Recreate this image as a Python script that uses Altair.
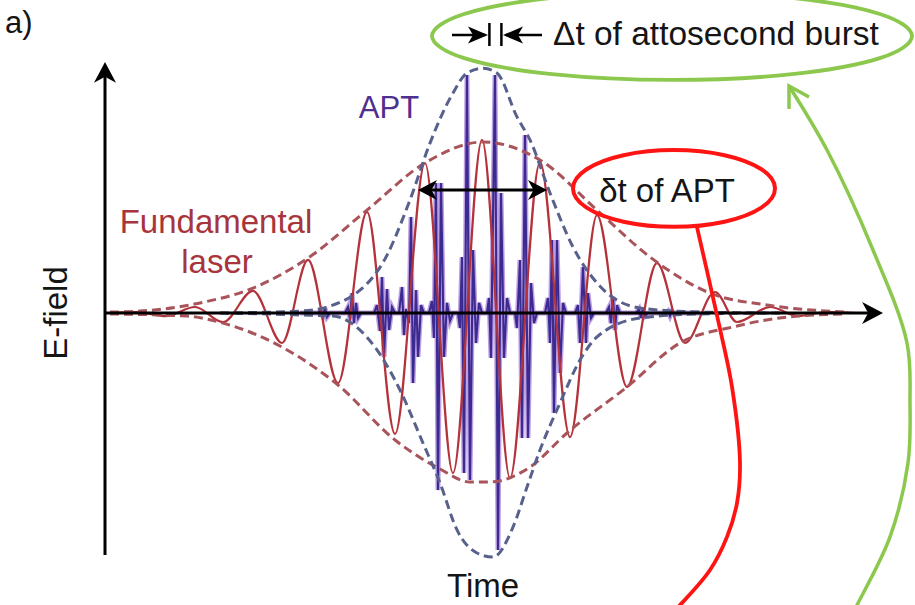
import altair as alt
import pandas as pd

# Time in fs (0 = pulse centre), field normalised to the APT peak.

# Fundamental laser: successive field extrema
laser_t = [-18.75, -17.3, -15.85, -14.4, -13.0, -11.5, -10.05, -8.75, -7.25, -5.8, -4.4,
           -2.9, -1.5, -0.05, 1.35, 2.85, 4.35, 5.7, 7.2, 8.7, 10.1, 11.6, 12.7, 14.35,
           15.75, 17.2, 18.65]
laser_e = [0.0, 0.004, -0.013, 0.025, -0.038, 0.092, -0.125, 0.221, -0.292, 0.421, -0.504,
           0.625, -0.667, 0.721, -0.688, 0.629, -0.517, 0.408, -0.308, 0.208, -0.125, 0.0875,
           -0.0375, 0.025, -0.0125, 0.004, 0.0]

# Laser envelope (upper / lower)
laser_env_top_t = [-18.65, -17.15, -14.15, -11.5, -8.75, -5.8, -2.9, 0.0, 2.85, 5.85, 8.35,
                   11.35, 14.2, 18.1]
laser_env_top_e = [0.004, 0.008, 0.042, 0.104, 0.229, 0.429, 0.625, 0.7125, 0.6375, 0.417,
                   0.233, 0.083, 0.033, 0.004]
laser_env_bot_t = [-18.65, -14.8, -13.0, -10.05, -7.25, -4.4, -2.15, -0.65, 0.35, 2.35, 4.2,
                   7.2, 9.85, 12.5, 15.2, 18.1]
laser_env_bot_e = [-0.004, -0.013, -0.042, -0.142, -0.3, -0.529, -0.65, -0.704, -0.704,
                   -0.642, -0.5, -0.308, -0.125, -0.058, -0.017, -0.004]

# Attosecond pulse train: field extrema of each burst
apt_t = [-9.15,
         -8.25, -8.1, -8.0, -7.9, -7.8, -7.65,
         -6.9, -6.75, -6.65, -6.55, -6.45, -6.35, -6.25, -6.1,
         -5.45, -5.3, -5.15, -5.05, -4.95, -4.8, -4.7, -4.55, -4.4,
         -4.2, -4.05, -3.95, -3.85, -3.7, -3.6, -3.5, -3.35, -3.25, -3.1, -2.95,
         -2.7, -2.55, -2.45, -2.35, -2.25, -2.1, -1.95, -1.8, -1.65, -1.5,
         -1.25, -1.15, -1.05, -0.95, -0.8, -0.65, -0.5, -0.35, -0.2, -0.05,
         0.2, 0.3, 0.4, 0.6, 0.75, 0.9, 1.05, 1.2, 1.35,
         1.6, 1.7, 1.85, 1.95, 2.1, 2.25, 2.4, 2.55, 2.7,
         3.1, 3.25, 3.35, 3.45, 3.55, 3.7, 3.85, 4.0, 4.15,
         4.6, 4.75, 4.85, 5.0, 5.15, 5.25, 5.4, 5.55,
         6.15, 6.3, 6.4, 6.5, 6.6, 6.7, 6.85,
         7.65, 7.8, 7.9, 8.0, 8.1, 8.25,
         9.15, 9.25, 9.35, 9.45, 9.55,
         10.85]
apt_e = [0.0,
         0.0, 0.0125, -0.0125, 0.021, -0.017, 0.0,
         0.0, 0.025, -0.025, 0.083, -0.042, 0.042, -0.021, 0.0,
         0.0, 0.033, -0.075, 0.15, -0.183, 0.1, -0.071, 0.025, 0.0,
         0.0, 0.108, -0.092, 0.017, -0.042, 0.4, -0.292, 0.096, -0.183, 0.033, 0.0,
         0.0, 0.05, -0.104, 0.542, -0.738, 0.542, -0.183, 0.042, -0.033, 0.0,
         0.0, -0.0625, 0.233, -0.667, 0.992, -0.696, 0.2625, -0.125, 0.042, 0.0,
         0.0, 0.0625, -0.1875, 0.992, -0.9875, 0.5, -0.1875, 0.0625, 0.0,
         0.0, -0.0625, 0.221, -0.521, 0.742, -0.521, 0.125, -0.042, 0.0,
         0.0, 0.0625, -0.125, 0.304, -0.417, 0.304, -0.25, 0.042, 0.0,
         0.0, 0.033, -0.125, 0.192, -0.125, 0.083, -0.021, 0.0,
         0.0, 0.025, -0.042, 0.067, -0.071, 0.033, 0.0,
         0.0, 0.017, -0.021, 0.021, -0.0125, 0.0,
         0.0, 0.008, -0.0125, 0.008, 0.0,
         0.0]

# APT envelope (upper / lower)
apt_env_top_t = [-13.15, -9.15, -7.8, -5.15, -3.65, -2.65, -1.5, -0.8, 0.0, 0.7, 1.7, 2.35,
                 3.35, 4.5, 5.7, 7.85, 10.85, 14.85]
apt_env_top_e = [0.0, 0.008, 0.025, 0.19, 0.471, 0.708, 0.917, 1.0, 1.02, 1.0, 0.817, 0.721,
                 0.5, 0.275, 0.125, 0.021, 0.004, 0.0]
apt_env_bot_t = [-13.15, -9.15, -7.5, -5.3, -4.15, -3.0, -2.15, -1.3, -0.3, 0.5, 1.5, 2.2,
                 2.85, 3.85, 4.85, 5.7, 7.85, 10.85, 14.85]
apt_env_bot_e = [0.0, -0.008, -0.013, -0.154, -0.321, -0.542, -0.708, -0.904, -1.0, -1.017,
                 -0.892, -0.725, -0.571, -0.375, -0.196, -0.1, -0.021, -0.004, 0.0]

# Callout outlines (ellipses) and connector curves
burst_ring_t = [21.45, 19.84, 15.45, 9.45, 3.45, -0.94, -2.55, -0.94, 3.45, 9.45, 15.45, 19.84]
burst_ring_e = [1.154, 1.246, 1.313, 1.337, 1.313, 1.246, 1.154, 1.062, 0.995, 0.971,
                0.995, 1.062]
train_ring_t = [14.6, 13.92, 12.075, 9.55, 7.025, 5.18, 4.5, 5.18, 7.025, 9.55, 12.075, 13.92]
train_ring_e = [0.519, 0.599, 0.6576, 0.679, 0.6576, 0.599, 0.519, 0.439, 0.3804, 0.359,
                0.3804, 0.439]
train_link_t = [10.7, 11.75, 12.45, 12.85, 12.7, 12.2, 11.35, 9.85, 9.35]
train_link_e = [0.358, -0.029, -0.308, -0.625, -0.792, -0.933, -1.071, -1.217, -1.258]
burst_link_t = [15.3, 17.2, 19.5, 21.2, 21.35, 21.25, 20.35, 18.7, 18.45]
burst_link_e = [0.946, 0.679, 0.2625, -0.125, -0.375, -0.625, -0.933, -1.217, -1.258]
burst_link_head_t = [16.3, 15.3, 15.3]
burst_link_head_e = [0.9, 0.946, 0.85]

X_DOMAIN = [-24.15, 21.6]
Y_DOMAIN = [-1.2167, 1.3042]
xs = alt.Scale(domain=X_DOMAIN, nice=False, zero=False)
ys = alt.Scale(domain=Y_DOMAIN, nice=False, zero=False)
FONT = "Liberation Sans"


def xy():
    return dict(x=alt.X("t:Q", scale=xs, axis=None),
                y=alt.Y("E:Q", scale=ys, axis=None))


def curve(t, e, **mark):
    df = pd.DataFrame({"t": t, "E": e, "i": list(range(len(t)))})
    return alt.Chart(df).mark_line(clip=True, **mark).encode(order=alt.Order("i:Q"), **xy())


def segment(t1, e1, t2, e2, color="#000000", width=3.0):
    df = pd.DataFrame({"t": [t1], "E": [e1], "t2": [t2], "E2": [e2]})
    return alt.Chart(df).mark_rule(color=color, strokeWidth=width).encode(
        x2="t2:Q", y2="E2:Q", **xy())


def head(path, t, e, size=484, color="#000000"):
    df = pd.DataFrame({"t": [t], "E": [e]})
    return alt.Chart(df).mark_point(shape=path, size=size, filled=True, color=color,
                                    opacity=1, strokeWidth=0).encode(**xy())


def label(text, t, e, size=33, color="#151515", align="center", angle=0,
          baseline="alphabetic"):
    df = pd.DataFrame({"t": [t], "E": [e], "s": [text]})
    return alt.Chart(df).mark_text(font=FONT, fontSize=size, color=color, align=align,
                                   angle=angle, baseline=baseline).encode(
        text="s:N", **xy())


UP = "M 0 0 L 1 1.9 L 0 1.35 L -1 1.9 Z"
RIGHT = "M 0 0 L -1.9 -1 L -1.35 0 L -1.9 1 Z"
LEFT = "M 0 0 L 1.9 -1 L 1.35 0 L 1.9 1 Z"
RIGHT_S = "M 0 0 L -2 -0.85 L -1.5 0 L -2 0.85 Z"
LEFT_S = "M 0 0 L 2 -0.85 L 1.5 0 L 2 0.85 Z"

RED_ENV = "#a8545a"
BLUE_ENV = "#58618c"
GREEN = "#8cc84e"
RED = "#ff1414"
DASH = [9, 5]

layers = [
    # attosecond pulse train
    curve(apt_t, apt_e, color="#a77fd8", strokeWidth=5, opacity=0.75),
    curve(apt_t, apt_e, color="#3b2a8f", strokeWidth=2.1),
    # fundamental laser field
    curve(laser_t, laser_e, color="#b4323a", strokeWidth=2.2, interpolate="monotone"),
    # envelopes
    curve(laser_env_top_t, laser_env_top_e, color=RED_ENV, strokeWidth=3,
          strokeDash=DASH, interpolate="monotone"),
    curve(laser_env_bot_t, laser_env_bot_e, color=RED_ENV, strokeWidth=3,
          strokeDash=DASH, interpolate="monotone"),
    curve(apt_env_top_t, apt_env_top_e, color=BLUE_ENV, strokeWidth=3,
          strokeDash=DASH, interpolate="monotone"),
    curve(apt_env_bot_t, apt_env_bot_e, color=BLUE_ENV, strokeWidth=3,
          strokeDash=DASH, interpolate="monotone"),
    # axes
    segment(-18.9, -1.008, -18.9, 0.99),
    head(UP, -18.9, 1.046),
    segment(-18.9, 0.0, 19.5, 0.0),
    head(RIGHT, 20.0, 0.0),
    # pulse-train duration arrow
    segment(-3.0, 0.5125, 2.95, 0.5125),
    head(LEFT, -3.25, 0.5125, size=400),
    head(RIGHT, 3.2, 0.5125, size=400),
    # burst-duration symbol
    segment(-1.55, 1.158, 0.1, 1.158, width=2.5),
    head(RIGHT_S, 0.25, 1.158, size=400),
    segment(0.32, 1.2083, 0.32, 1.1125, width=2.5),
    segment(0.92, 1.2083, 0.92, 1.1125, width=2.5),
    head(LEFT_S, 1.0, 1.158, size=400),
    segment(1.15, 1.158, 2.95, 1.158, width=2.5),
    # callouts
    curve(burst_ring_t, burst_ring_e, color=GREEN, strokeWidth=3.8,
          interpolate="cardinal-closed"),
    curve(train_ring_t, train_ring_e, color=RED, strokeWidth=4,
          interpolate="cardinal-closed"),
    curve(train_link_t, train_link_e, color=RED, strokeWidth=3.8,
          interpolate="catmull-rom"),
    curve(burst_link_t, burst_link_e, color=GREEN, strokeWidth=3.5,
          interpolate="catmull-rom"),
    curve(burst_link_head_t, burst_link_head_e, color=GREEN, strokeWidth=3.5),
    # text
    label("a)", -23.9, 1.167, size=31, align="left"),
    label("E-field", -21.3, 0.0, angle=270, baseline="middle"),
    label("Time", 0.0, -1.183),
    label("APT", -4.7, 0.8125, size=31, color="#4f2f8f"),
    label("Fundamental", -13.35, 0.333, color="#a8343c"),
    label("laser", -13.3, 0.1667, color="#a8343c"),
    label("\u03b4t of APT", 9.2, 0.4625),
    label("\u0394t of attosecond burst", 3.5, 1.1167, size=33.5, align="left"),
]

chart = alt.layer(*layers).properties(
    width=915, height=605, padding=0,
    autosize=alt.AutoSizeParams(type="none"),
).configure_view(stroke=None)

chart.save("out.html", embed_options={"renderer": "svg", "actions": False})
